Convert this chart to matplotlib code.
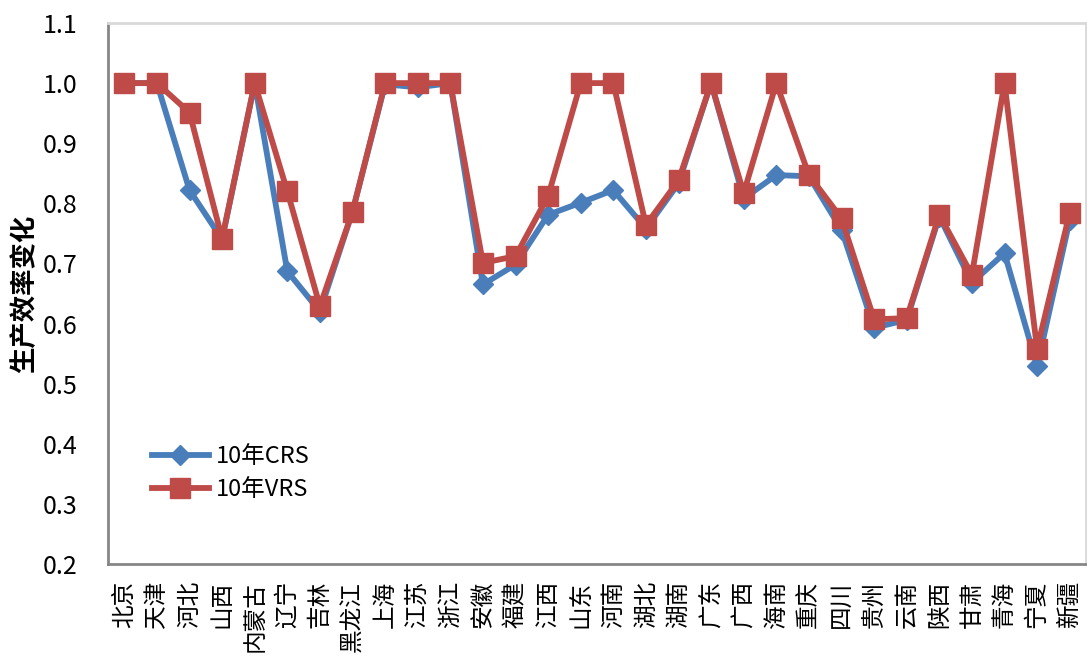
import matplotlib
matplotlib.use("Agg")
import matplotlib.pyplot as plt
import numpy as np

plt.rcParams['font.family'] = ['Noto Sans CJK SC', 'DejaVu Sans']

provinces = ["北京", "天津", "河北", "山西", "内蒙古", "辽宁", "吉林", "黑龙江", "上海", "江苏",
             "浙江", "安徽", "福建", "江西", "山东", "河南", "湖北", "湖南", "广东", "广西",
             "海南", "重庆", "四川", "贵州", "云南", "陕西", "甘肃", "青海", "宁夏", "新疆"]
crs = [1.000, 1.000, 0.822, 0.740, 1.000, 0.687, 0.620, 0.786, 0.998, 0.993,
       1.000, 0.665, 0.698, 0.781, 0.801, 0.822, 0.758, 0.833, 1.000, 0.808,
       0.847, 0.845, 0.756, 0.593, 0.606, 0.778, 0.668, 0.717, 0.529, 0.772]
vrs = [1.000, 1.000, 0.951, 0.741, 1.000, 0.820, 0.629, 0.786, 1.000, 1.000,
       1.000, 0.701, 0.712, 0.812, 1.000, 1.000, 0.764, 0.838, 1.000, 0.817,
       1.000, 0.847, 0.775, 0.607, 0.609, 0.781, 0.681, 1.000, 0.558, 0.784]
series_names = ["10年CRS", "10年VRS"]
yticks = [0.2, 0.3, 0.4, 0.5, 0.6, 0.7, 0.8, 0.9, 1.0, 1.1]

W, H = 1087, 660
fig = plt.figure(figsize=(W / 100, H / 100), dpi=100)
left, right, top, bottom = 108, 1086, 23, 564
ax = fig.add_axes([left / W, 1 - bottom / H, (right - left) / W, (bottom - top) / H])

x = np.arange(len(provinces))
blue = "#4A7EBB"
red = "#BE4B48"
ax.plot(x, crs, color=blue, lw=4.2, marker='D', ms=10.5, mfc=blue, mec=blue,
        label=series_names[0], solid_joinstyle='round')
ax.plot(x, vrs, color=red, lw=4.2, marker='s', ms=14, mfc=red, mec=red,
        label=series_names[1], solid_joinstyle='round')

ax.set_xlim(-0.5, len(provinces) - 0.5)
ax.set_ylim(0.2, 1.1)
ax.set_yticks(yticks)
ax.set_yticklabels([f"{v:.1f}" for v in yticks], fontsize=18)
ax.set_xticks(x)
ax.set_xticklabels(provinces, rotation=90, fontsize=17)
ax.tick_params(axis='both', length=0)
ax.tick_params(axis='y', pad=22)
ax.tick_params(axis='x', pad=12)

for s in ['left', 'bottom']:
    ax.spines[s].set_color('#868686')
    ax.spines[s].set_linewidth(2)
for s in ['top', 'right']:
    ax.spines[s].set_color('#D9D9D9')
    ax.spines[s].set_linewidth(2)

ax.set_ylabel("生产效率变化", fontsize=19, fontweight='bold')
ax.yaxis.set_label_coords(-0.0716, 0.5)

ax.legend(loc='center left', bbox_to_anchor=(0.045, 0.168), frameon=False,
          fontsize=17, borderpad=0, borderaxespad=0, handlelength=2.4,
          handletextpad=0.3, labelspacing=0.4)

fig.savefig("out.png", dpi=100)
